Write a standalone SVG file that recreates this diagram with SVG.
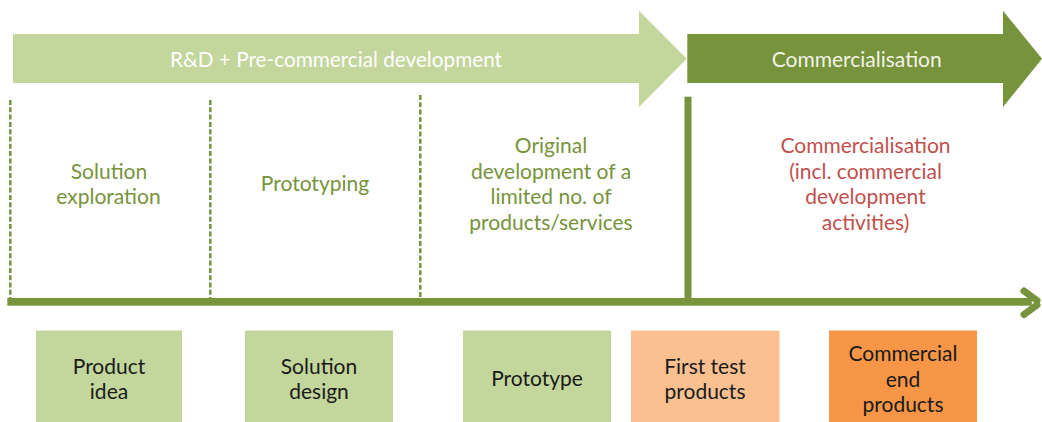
<svg xmlns="http://www.w3.org/2000/svg" width="1042" height="422" viewBox="0 0 1042 422">
  <style>
    text { font-family: Lato, "Open Sans", "Liberation Sans", sans-serif; font-size: 21px; text-anchor: middle; }
    .w { fill: #ffffff; }
    .g { fill: #77933C; }
    .r { fill: #C0504D; }
    .k { fill: #1a1a1a; }
    .lg { fill: #C3D69B; }
    .lo { fill: #FAC090; }
    .do { fill: #F79646; }
    .dg { fill: #77933C; }
    .dash { stroke: #77933C; stroke-width: 2.5; stroke-dasharray: 5 2.3; fill: none; }
  </style>

  <g id="phase-rd">
    <polygon class="lg" points="13,34 639,34 639,10.7 686.7,58.7 639,107 639,83 13,83"/>
    <text class="w" x="336" y="66.5" textLength="332" lengthAdjust="spacingAndGlyphs">R&amp;D + Pre-commercial development</text>
  </g>

  <g id="phase-comm">
    <polygon class="dg" points="687.3,34 1003,34 1003,10.7 1042,58.7 1003,107 1003,83 687.3,83"/>
    <text x="856.7" y="66.7" style="fill:#F2F2E6">Commercialisation</text>
  </g>

  <g id="connectors">
    <line class="dash" x1="10.3" y1="100" x2="10.3" y2="298"/>
    <line class="dash" x1="210.3" y1="100" x2="210.3" y2="298"/>
    <line class="dash" x1="420.3" y1="95" x2="420.3" y2="298"/>
    <rect class="dg" x="684.5" y="96.7" width="7" height="202"/>
    <rect class="dg" x="7.3" y="298" width="1024.5" height="7.7"/>
    <line x1="1024" y1="291" x2="1037" y2="300.5" stroke="#77933C" stroke-width="7" stroke-linecap="round"/>
    <line x1="1024" y1="314.5" x2="1037" y2="305" stroke="#77933C" stroke-width="7" stroke-linecap="round"/>
  </g>

  <g id="col-solution-exploration">
    <text class="g" x="109" y="178.5">Solution</text>
    <text class="g" x="108.5" y="204">exploration</text>
  </g>

  <g id="col-prototyping">
    <text class="g" x="315" y="191">Prototyping</text>
  </g>

  <g id="col-original-development">
    <text class="g" x="551" y="153">Original</text>
    <text class="g" x="551" y="178.5">development of a</text>
    <text class="g" x="551" y="204">limited no. of</text>
    <text class="g" x="551" y="229.5">products/services</text>
  </g>

  <g id="col-commercialisation">
    <text class="r" x="865.5" y="153">Commercialisation</text>
    <text class="r" x="865.5" y="178.5">(incl. commercial</text>
    <text class="r" x="865.5" y="204">development</text>
    <text class="r" x="865.5" y="229.5">activities)</text>
  </g>

  <g id="box-product-idea">
    <rect class="lg" x="36" y="330.5" width="146" height="92"/>
    <text class="k" x="109" y="374">Product</text>
    <text class="k" x="109" y="399">idea</text>
  </g>

  <g id="box-solution-design">
    <rect class="lg" x="245" y="330.5" width="148" height="92"/>
    <text class="k" x="319" y="374">Solution</text>
    <text class="k" x="319" y="399">design</text>
  </g>

  <g id="box-prototype">
    <rect class="lg" x="463" y="330.5" width="148" height="92"/>
    <text class="k" x="537" y="386">Prototype</text>
  </g>

  <g id="box-first-test-products">
    <rect class="lo" x="631" y="330.5" width="148.5" height="92"/>
    <text class="k" x="705" y="374">First test</text>
    <text class="k" x="705" y="399">products</text>
  </g>

  <g id="box-commercial-end-products">
    <rect class="do" x="829" y="330.5" width="148" height="92"/>
    <text class="k" x="903" y="361">Commercial</text>
    <text class="k" x="903" y="386.5">end</text>
    <text class="k" x="903" y="412">products</text>
  </g>
</svg>
